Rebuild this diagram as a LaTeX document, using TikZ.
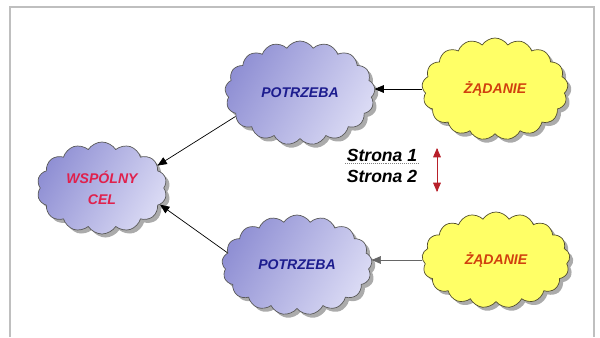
\documentclass[tikz,border=0pt]{standalone}
\usepackage{fontspec}
\setmainfont{Liberation Sans}
\usepackage{xcolor}
\usetikzlibrary{arrows,shapes.symbols,shadows}

\definecolor{cloudblue}{HTML}{9090D4}
\definecolor{cloudpale}{HTML}{DADAF4}
\definecolor{cloudyel}{HTML}{FFFF66}
\definecolor{navytxt}{HTML}{1C1C8E}
\definecolor{celtxt}{HTML}{E0204C}
\definecolor{zadtxt}{HTML}{D0400E}
\definecolor{stronared}{HTML}{B8202A}

\tikzset{
  cloudbox/.style={cloud, cloud puffs=17, cloud puff arc=115, cloud ignores aspect,
    draw=black!65, line width=0.5pt, inner sep=0pt,
    drop shadow={shadow xshift=2.5pt, shadow yshift=-2.5pt, fill=black!55, opacity=.6},
    font=\bfseries\itshape\fontsize{10}{15}\selectfont, align=center},
  needbox/.style={cloudbox, left color=cloudblue, right color=cloudpale, shading angle=60,
    text=navytxt},
  demandbox/.style={cloudbox, fill=cloudyel, draw=black!55!olive, text=zadtxt},
  goalbox/.style={cloudbox, left color=cloudblue, right color=cloudpale, shading angle=60,
    text=celtxt, cloud puffs=14},
  arr/.style={-triangle 45, line width=0.5pt},
  sidetxt/.style={font=\bfseries\itshape\fontsize{12.5}{14}\selectfont, inner sep=1pt}
}

\begin{document}
\begin{tikzpicture}[x=0.025cm,y=-0.025cm]
    \useasboundingbox (0,0) rectangle (600,337);
    \draw[black!25, line width=1pt] (10,337) -- (10,7) -- (594,7) -- (594,337);

    \node[needbox, minimum width=3.75cm, minimum height=2.6cm] (p1) at (300,93) {POTRZEBA};
    \node[needbox, minimum width=3.75cm, minimum height=2.5cm] (p2) at (297,265) {POTRZEBA};
    \node[demandbox, minimum width=3.65cm, minimum height=2.55cm] (z1) at (495,89) {ŻĄDANIE};
    \node[demandbox, minimum width=3.7cm, minimum height=2.4cm] (z2) at (496,260) {ŻĄDANIE};
    \node[goalbox, minimum width=3.25cm, minimum height=2.3cm] (wc) at (102,188) {WSPÓLNY\\CEL};

    \draw[arr] (z1.west) -- (z1.west -| p1.east);
    \draw[arr, black!60] (z2.west) -- (z2.west -| p2.east);
    \draw[arr] (p1.200) -- (wc.22);
    \draw[arr] (p2.170) -- (wc.-16);

    \node[sidetxt] (st1) at (382,155) {Strona 1};
    \node[sidetxt] (st2) at (382,176) {Strona 2};
    \draw[black!50, densely dotted] (st1.south west) -- (st1.south east);

    \coordinate (s1) at (437,148);
    \coordinate (s2) at (437,192);
    \draw[stronared, triangle 45-triangle 45, line width=0.5pt] (s1) -- (s2);
  \end{tikzpicture}
\end{document}
